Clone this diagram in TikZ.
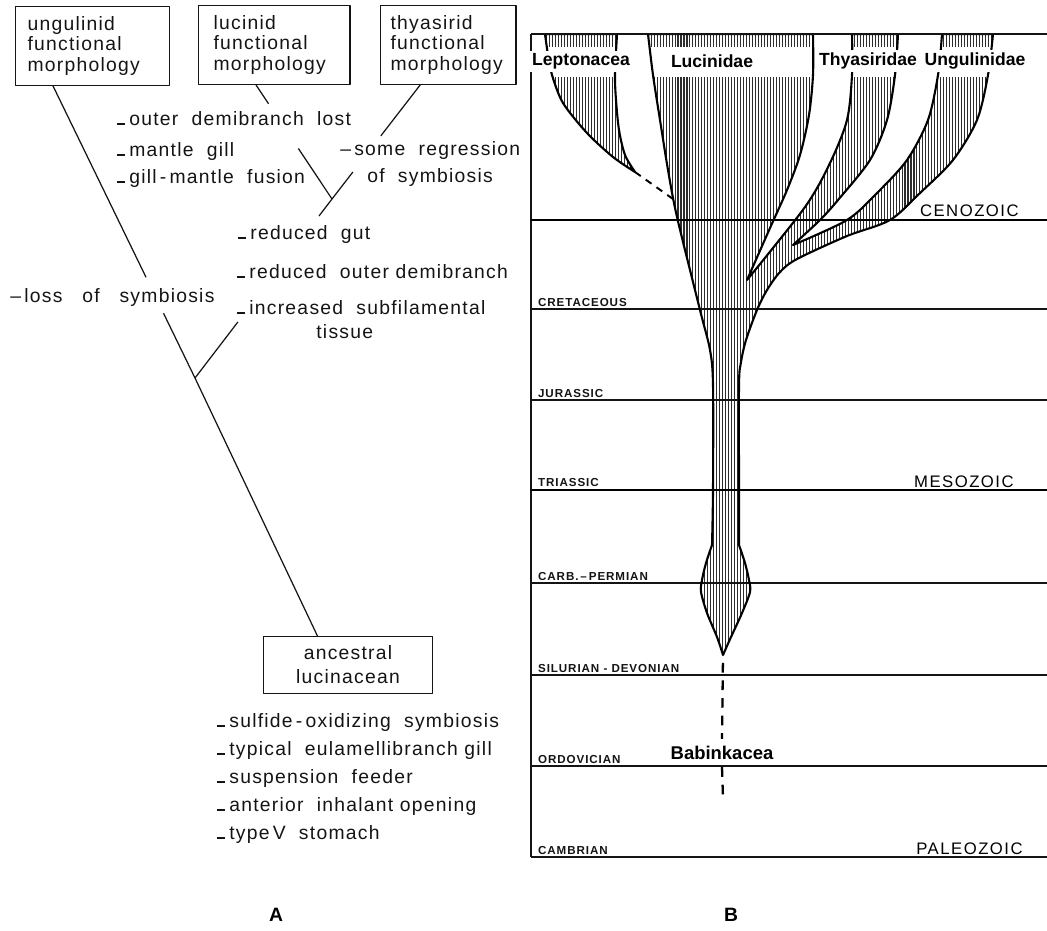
\documentclass[tikz,border=0pt]{standalone}
\usepackage{fontspec}
\setmainfont{Liberation Sans}
\newfontfamily\traitfont[LetterSpace=6.5]{Liberation Sans}
\newfontfamily\erafont[LetterSpace=9]{Liberation Sans}
\newfontfamily\periodfont[LetterSpace=8]{Liberation Sans}
\usetikzlibrary{calc,patterns.meta}
\definecolor{ink}{RGB}{20,20,20}
\definecolor{hatch}{RGB}{45,45,45}
\newcommand{\lowdash}{\rule{0.42em}{0.1em}\hspace{0.2em}}

% outline of the lucinid stem with the thyasirid and ungulinid branches
\newcommand{\lucpath}{(648,34)
 -- plot[smooth] coordinates {(648,34) (653,75) (660,120) (668,170) (677,217) (700,310) (710,350) (713,385) (713,490) (712,545)}
 -- plot[smooth] coordinates {(712,545) (706,563) (702,580) (701,592) (707,613) (717,637) (723,655)}
 -- plot[smooth] coordinates {(723,655) (731,637) (742,613) (750,592) (749,580) (745,563) (739,545)}
 -- plot[smooth] coordinates {(739,545) (739,490) (739,385) (741,362) (746,340) (757,310) (767,290) (780,272) (797,259) (847,236) (890,220) (920,193) (953,160) (977,120) (988,75) (993,34)}
 -- (942,34)
 -- plot[smooth] coordinates {(942,34) (938,75) (928,120) (907,160) (877,193) (847,220) (793,245)}
 -- plot[smooth] coordinates {(793,245) (820,220) (838,200) (870,160) (887,120) (895,75) (898,34)}
 -- (852,34)
 -- plot[smooth] coordinates {(852,34) (852,75) (847,120) (830,163) (805,207) (747,280)}
 -- plot[smooth] coordinates {(747,280) (770,228) (787,190) (800,155) (809,115) (813,75) (813,34)}
 -- cycle}
% outline of the leptonacean wedge
\newcommand{\leptpath}{plot[smooth] coordinates {(545,34) (548,55) (552,75) (563,103) (587,133) (613,157) (635,172)}
 -- plot[smooth] coordinates {(635,172) (625,155) (619,130) (616,100) (615,75) (617,34)} -- cycle}

\begin{document}
\begin{tikzpicture}[x=0.02cm,y=-0.02cm,line join=round]
    \tikzstyle{branch}=[draw=ink, line width=0.7pt]
    \tikzstyle{morphbox}=[draw=ink, line width=0.7pt, anchor=north west, align=left, minimum height=44.8pt, inner ysep=2pt, text=ink, font=\traitfont\fontsize{11}{11.6}\selectfont]
    \tikzstyle{ancbox}=[draw=ink, line width=0.7pt, align=center, minimum width=95.8pt, minimum height=32.3pt, text=ink, font=\traitfont\fontsize{11}{13.6}\selectfont]
    \tikzstyle{trait}=[anchor=base west, inner sep=0pt, text=ink, font=\traitfont\fontsize{11}{13}\selectfont]
    \tikzstyle{hatched}=[pattern={Lines[angle=90,distance=1.7pt,line width=0.6pt]}, pattern color=hatch]
    \tikzstyle{outline}=[draw=black, line width=1.2pt]
    \tikzstyle{thinrule}=[draw=ink, line width=0.6pt]
    \tikzstyle{thickrule}=[draw=black, line width=1.4pt]
    \tikzstyle{period}=[anchor=south west, inner sep=1pt, text=ink, font=\periodfont\bfseries\fontsize{6.6}{7}\selectfont]
    \tikzstyle{era}=[anchor=base east, inner sep=0pt, text=black, font=\erafont\fontsize{9.5}{11}\selectfont]
    \tikzstyle{family}=[inner sep=1.5pt, fill=white, text=black, font=\bfseries\fontsize{10}{12}\selectfont]
    \tikzstyle{gapline}=[draw=black, line width=1.3pt, dash pattern=on 5.5pt off 4.5pt, dash phase=5.5pt]
    \tikzstyle{panel}=[inner sep=0pt, text=black, font=\bfseries\fontsize{11}{13}\selectfont]

    \useasboundingbox (0,0) rectangle (1047,930);

    % A: functional morphology
    \node[morphbox, text width=74pt, inner xsep=6.8pt]   (ungbox) at (15,6)  {ungulinid\\functional\\morphology};
    \node[morphbox, text width=69.2pt, inner xsep=8.5pt] (lucbox) at (198,5) {lucinid\\functional\\morphology};
    \node[morphbox, text width=65.7pt, inner xsep=5.7pt] (thybox) at (380,5) {thyasirid\\functional\\morphology};
    \node[ancbox] (ancbox) at (348,665) {ancestral\\lucinacean};

    \node[trait] (t1)  at (117,125) {\lowdash outer\ \ demibranch\ \ lost};
    \node[trait] (t2)  at (117,156) {\lowdash mantle\ \ gill};
    \node[trait] (t3)  at (117,183) {\lowdash gill\,-\,mantle\ \ fusion};
    \node[trait] (t4)  at (340,155) {\textendash\,some\ \ regression};
    \node[trait] (t5)  at (367,182) {of\ \ symbiosis};
    \node[trait] (t6)  at (238,239) {\lowdash reduced\ \ gut};
    \node[trait] (t7)  at (237,278) {\lowdash reduced\ \ outer demibranch};
    \node[trait] (t8)  at (10,302)  {\textendash\,loss\ \ \ of\ \ \ symbiosis};
    \node[trait] (t9)  at (237,314) {\lowdash increased\ \ subfilamental};
    \node[trait] (t10) at (316,338) {tissue};
    \node[trait] (a1)  at (217,727) {\lowdash sulfide\,-\,oxidizing\ \ symbiosis};
    \node[trait] (a2)  at (217,755) {\lowdash typical\ \ eulamellibranch gill};
    \node[trait] (a3)  at (217,783) {\lowdash suspension\ \ feeder};
    \node[trait] (a4)  at (217,811) {\lowdash anterior\ \ inhalant opening};
    \node[trait] (a5)  at (217,839) {\lowdash type\,V\ \ stomach};

    \coordinate (J1) at (195,378);
    \coordinate (J2) at (332,199);
    \coordinate (ungfoot) at ($(ungbox.south west)!0.245!(ungbox.south east)$);
    \coordinate (lucfoot) at ($(lucbox.south west)!0.38!(lucbox.south east)$);
    \coordinate (thyfoot) at ($(thybox.south west)!0.294!(thybox.south east)$);
    \coordinate (ancfoot) at ($(ancbox.north west)!0.32!(ancbox.north east)$);

    \draw[branch] (ungfoot) -- ($(ungfoot)!.655!(J1)$) ($(ungfoot)!.778!(J1)$) -- (J1) -- (ancfoot);
    \draw[branch] (J2) -- ($(J2)!.443!(lucfoot)$) ($(J2)!.835!(lucfoot)$) -- (lucfoot);
    \draw[branch] (J2) -- ($(J2)!.237!(thyfoot)$) ($(J2)!.553!(thyfoot)$) -- (thyfoot);
    \draw[branch] (J2) -- ($(J2)!.095!(J1)$) ($(J2)!.687!(J1)$) -- (J1);

    \node[panel] (panelA) at (276,915) {A};

    % B: range chart
    \path[hatched] \lucpath;
    \path[hatched] \leptpath;
    \fill[white] (533,46.5) rectangle (1045,76.5);

    \draw[thinrule] (531,34) -- (1047,34);
    \draw[thinrule] (531,34) -- (531,857);
    \draw[thickrule] (531,220) -- (1047,220);
    \draw[thickrule] (531,490) -- (1047,490);
    \node[period] (triassic) at (536,489) {TRIASSIC};
    \foreach \y/\name in {309/CRETACEOUS, 400/JURASSIC, 583/{CARB.\,\textendash\,PERMIAN}, 675/{SILURIAN - DEVONIAN}, 766/ORDOVICIAN, 857/CAMBRIAN}{
      \draw[thinrule] (531,\y) -- (1047,\y);
      \node[period] (p\y) at (536,\y) {\name};
    }

    \begin{scope}
      \clip (520,35.5) rectangle (1047,700);
      \draw[outline] \lucpath;
      \draw[outline] \leptpath;
    \end{scope}

    \node[family] (lept) at (581,61) {Leptonacea};
    \node[family] (luci) at (712,61) {Lucinidae};
    \node[family] (thya) at (868,61) {Thyasiridae};
    \node[family] (ungu) at (975,61) {Ungulinidae};

    \node[era] (ceno)  at (1019,216) {CENOZOIC};
    \node[era] (meso)  at (1014,487) {MESOZOIC};
    \node[era] (paleo) at (1023,854) {PALEOZOIC};

    \coordinate (lepttip) at (635,172);
    \coordinate (lucside) at (673,199);
    \draw[gapline, line width=1.1pt, dash pattern=on 4pt off 3.5pt, dash phase=0pt] (lepttip) -- (lucside);

    \coordinate (luctip) at (723,655);
    \coordinate (babinkend) at (723,798);
    \node[family, fill=none, inner sep=4pt, font=\bfseries\fontsize{10.5}{12}\selectfont] (babink) at (722,753) {Babinkacea};
    \draw[gapline] (luctip) -- (babink.north);
    \draw[gapline, dash phase=0pt] (babink.south) -- (babinkend);

    \node[panel] (panelB) at (731,915) {B};
\end{tikzpicture}
\end{document}
